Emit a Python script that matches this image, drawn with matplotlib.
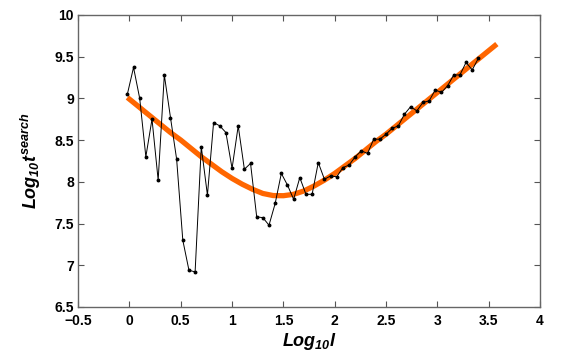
import matplotlib
matplotlib.use("Agg")
import matplotlib.pyplot as plt

# measured search times (log10)
log_l = [-0.02, 0.04, 0.10, 0.16, 0.22, 0.28, 0.34, 0.40, 0.46, 0.52,
         0.58, 0.64, 0.70, 0.76, 0.82, 0.88, 0.94, 1.00, 1.06, 1.12,
         1.18, 1.24, 1.30, 1.36, 1.42, 1.48, 1.54, 1.60, 1.66, 1.72,
         1.78, 1.84, 1.90, 1.96, 2.02, 2.08, 2.14, 2.20, 2.26, 2.32,
         2.38, 2.44, 2.50, 2.56, 2.62, 2.68, 2.74, 2.80, 2.86, 2.92,
         2.98, 3.04, 3.10, 3.16, 3.22, 3.28, 3.34, 3.40]
log_t = [9.05, 9.37, 9.00, 8.30, 8.75, 8.02, 9.28, 8.77, 8.27, 7.30,
         6.94, 6.92, 8.42, 7.84, 8.71, 8.67, 8.59, 8.16, 8.67, 8.15,
         8.22, 7.58, 7.57, 7.48, 7.74, 8.10, 7.96, 7.79, 8.05, 7.85,
         7.85, 8.23, 8.03, 8.07, 8.06, 8.17, 8.20, 8.30, 8.37, 8.34,
         8.51, 8.51, 8.57, 8.64, 8.67, 8.81, 8.90, 8.85, 8.95, 8.97,
         9.10, 9.07, 9.15, 9.28, 9.28, 9.43, 9.34, 9.48]

# fitted curve
fit_x = [-0.02, 0.1, 0.2, 0.3, 0.4, 0.5, 0.6, 0.7, 0.8, 0.9, 1.0,
         1.1, 1.2, 1.3, 1.4, 1.5, 1.6, 1.7, 1.8, 1.9, 2.0, 2.1, 2.2,
         2.3, 2.4, 2.5, 2.6, 2.7, 2.8, 2.9, 3.0, 3.1, 3.2, 3.3, 3.4,
         3.5, 3.58]
fit_y = [9.01, 8.89, 8.79, 8.69, 8.59, 8.50, 8.40, 8.30, 8.21, 8.12,
         8.04, 7.97, 7.91, 7.86, 7.835, 7.833, 7.85, 7.89, 7.95, 8.02,
         8.10, 8.19, 8.28, 8.38, 8.48, 8.57, 8.67, 8.77, 8.87, 8.97,
         9.07, 9.17, 9.27, 9.37, 9.47, 9.57, 9.65]

plt.rcParams['font.family'] = 'Liberation Sans'
plt.rcParams['mathtext.fontset'] = 'custom'
plt.rcParams['mathtext.it'] = 'Liberation Sans:bold:italic'
plt.rcParams['mathtext.rm'] = 'Liberation Sans:bold:italic'

fig = plt.figure(figsize=(5.66, 3.62), dpi=100)
ax = fig.add_axes([0.138, 0.152, 0.816, 0.807])

ax.plot(fit_x, fit_y, color='#ff6600', lw=3.8, solid_capstyle='butt', zorder=2)
ax.plot(log_l, log_t, color='black', lw=0.7, marker='o', ms=1.8, zorder=3)

ax.set_xlim(-0.5, 4)
ax.set_ylim(6.5, 10)
ax.set_xticks([-0.5, 0, 0.5, 1, 1.5, 2, 2.5, 3, 3.5, 4])
ax.set_xticklabels(['\u22120.5', '0', '0.5', '1', '1.5', '2', '2.5', '3', '3.5', '4'])
ax.set_yticks([6.5, 7, 7.5, 8, 8.5, 9, 9.5, 10])
ax.set_yticklabels(['6.5', '7', '7.5', '8', '8.5', '9', '9.5', '10'])
ax.tick_params(direction='in', top=True, right=True, length=4, width=0.8,
               color='#555555', labelsize=10)
ax.tick_params(axis='x', pad=5)
ax.tick_params(axis='y', pad=3)
for lab in ax.get_xticklabels() + ax.get_yticklabels():
    lab.set_fontweight('bold')
for s in ax.spines.values():
    s.set_color('#666666')
    s.set_linewidth(1.0)

ax.set_xlabel(r'$Log_{10}l$', fontsize=13, labelpad=2)
ax.set_ylabel(r'$Log_{10}t^{search}$', fontsize=13, labelpad=8)

fig.savefig('out.png', dpi=100)
